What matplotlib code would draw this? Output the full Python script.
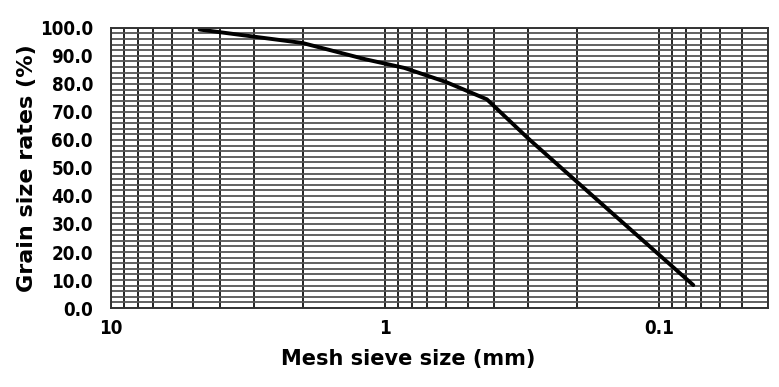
import matplotlib
matplotlib.use("Agg")
from matplotlib import pyplot as plt
from matplotlib.ticker import LogLocator, MultipleLocator, FixedLocator, NullFormatter

# sieve size (mm) vs passing rate (%)
sieve_mm = [4.75, 2.0, 1.18, 0.85, 0.6, 0.425, 0.3, 0.15, 0.075]
passing = [99.4, 94.6, 88.8, 85.7, 80.7, 74.5, 60.5, 34.3, 8.2]

x_ticks = [10, 1, 0.1]
x_tick_labels = ["10", "1", "0.1"]
y_ticks = [0, 10, 20, 30, 40, 50, 60, 70, 80, 90, 100]
y_tick_labels = ["%.1f" % v for v in y_ticks]

plt.rcParams['font.family'] = ['DejaVu Sans']

fig = plt.figure(figsize=(7.79, 3.87), dpi=100)
ax = fig.add_axes([0.1425, 0.204, 0.8435, 0.724])

ax.set_xscale('log')
ax.set_xlim(10, 0.04)
ax.set_ylim(0, 100)

ax.xaxis.set_major_locator(FixedLocator(x_ticks))
ax.set_xticklabels(x_tick_labels)
ax.xaxis.set_minor_locator(LogLocator(base=10, subs=range(2, 10), numticks=20))
ax.xaxis.set_minor_formatter(NullFormatter())
ax.set_yticks(y_ticks)
ax.set_yticklabels(y_tick_labels)
ax.yaxis.set_minor_locator(MultipleLocator(2))

ax.grid(True, which='both', axis='x', color='#222222', lw=1.4)
ax.grid(True, which='major', axis='y', color='#555555', lw=1.3)
ax.grid(True, which='minor', axis='y', color='#555555', lw=1.3)
ax.set_axisbelow(True)

ax.tick_params(which='both', length=0)
ax.tick_params(axis='y', pad=13)
ax.tick_params(axis='x', pad=8)
narrow = ['DejaVu Sans Condensed', 'DejaVu Sans']
for lab in ax.get_xticklabels() + ax.get_yticklabels():
    lab.set_fontweight('bold')
    lab.set_family(narrow)
    lab.set_fontstretch('condensed')
    lab.set_fontsize(13.5)

for sp in ax.spines.values():
    sp.set_color('#333333')
    sp.set_linewidth(1.4)

ax.plot(sieve_mm, passing, color='black', lw=2.8, solid_capstyle='round')

ax.set_ylabel("Grain size rates (%)", fontsize=16, fontweight='bold')
ax.yaxis.set_label_coords(-0.113, 0.5)
ax.set_xlabel("Mesh sieve size (mm)", fontsize=15, fontweight='bold')
ax.xaxis.set_label_coords(0.452, -0.145)

fig.savefig("out.png", dpi=100)
